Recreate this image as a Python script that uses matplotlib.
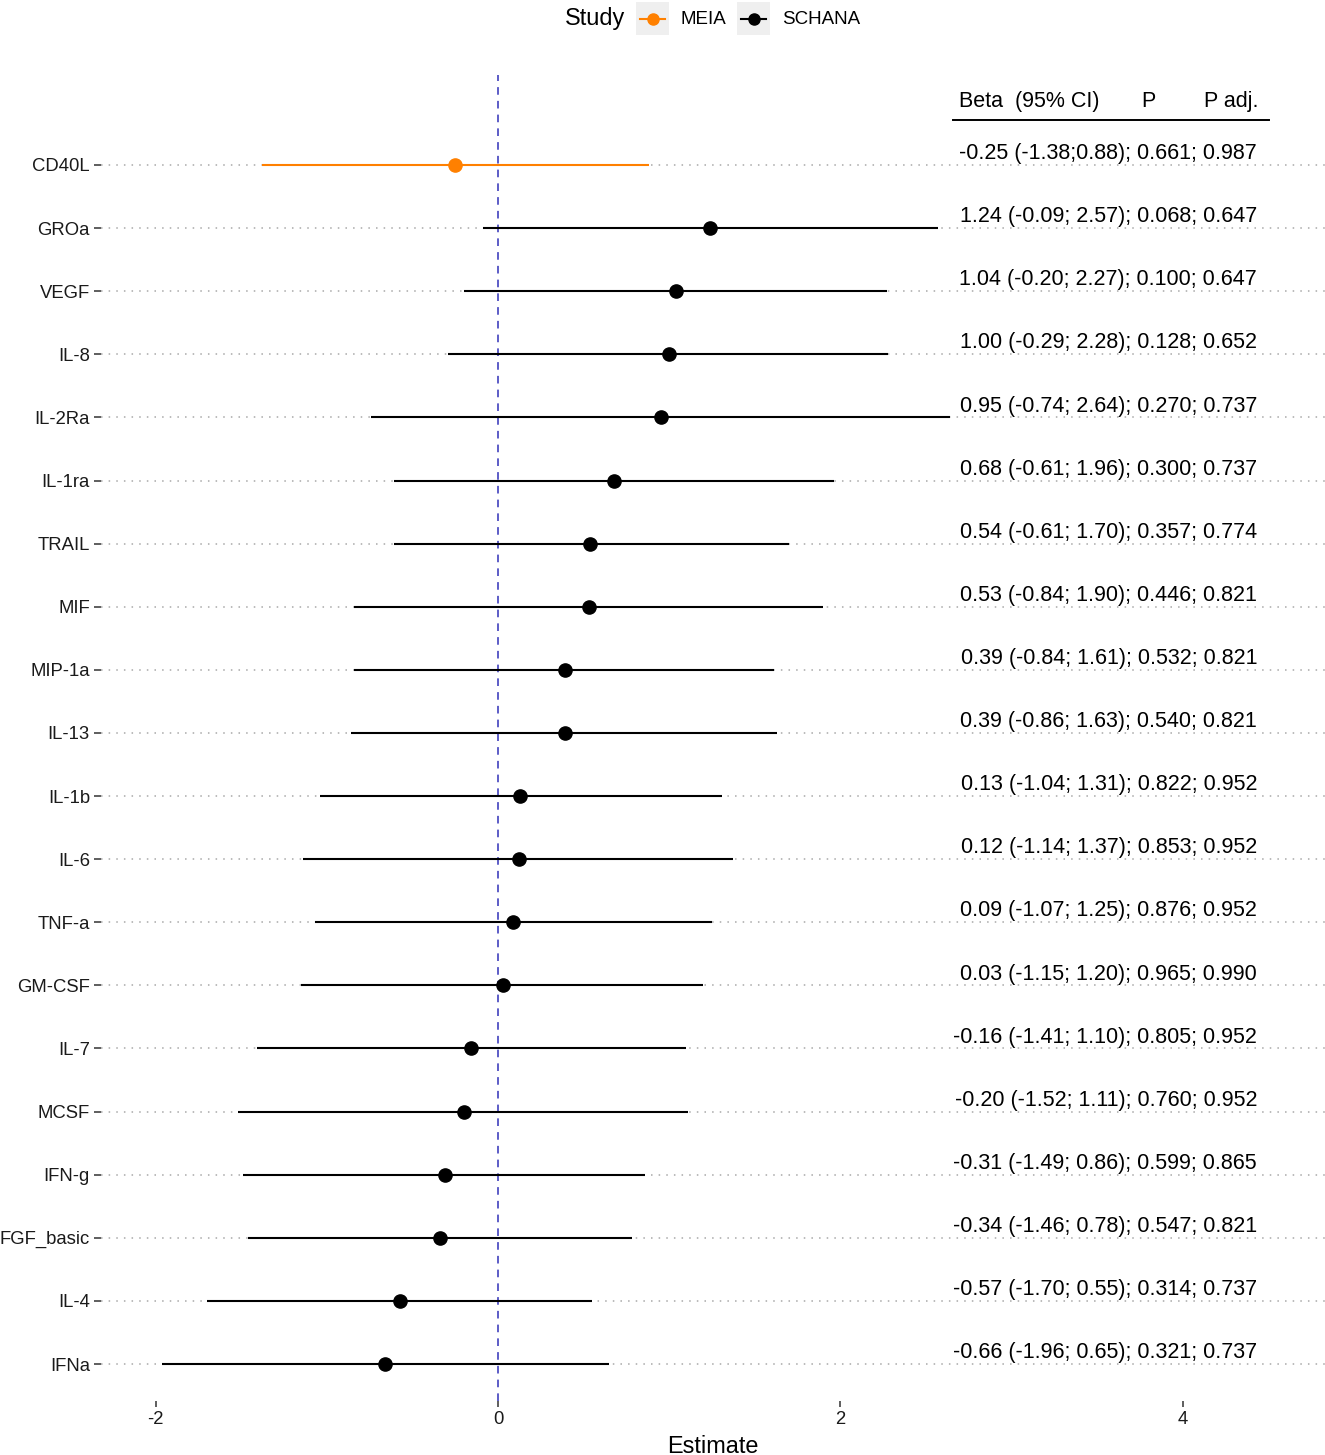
import numpy as np
import matplotlib
matplotlib.use('Agg')
import matplotlib.pyplot as plt
from matplotlib.lines import Line2D
from matplotlib.patches import Rectangle

plt.rcParams['font.family'] = ['Liberation Sans', 'DejaVu Sans']
plt.rcParams['axes.unicode_minus'] = False

markers = ['CD40L', 'GROa', 'VEGF', 'IL-8', 'IL-2Ra', 'IL-1ra', 'TRAIL', 'MIF', 'MIP-1a', 'IL-13',
           'IL-1b', 'IL-6', 'TNF-a', 'GM-CSF', 'IL-7', 'MCSF', 'IFN-g', 'FGF_basic', 'IL-4', 'IFNa']
study = ['MEIA'] + ['SCHANA'] * 19
beta = [-0.25, 1.24, 1.04, 1.00, 0.95, 0.68, 0.54, 0.53, 0.39, 0.39,
        0.13, 0.12, 0.09, 0.03, -0.16, -0.20, -0.31, -0.34, -0.57, -0.66]
lo = [-1.38, -0.09, -0.20, -0.29, -0.74, -0.61, -0.61, -0.84, -0.84, -0.86,
      -1.04, -1.14, -1.07, -1.15, -1.41, -1.52, -1.49, -1.46, -1.70, -1.96]
hi = [0.88, 2.57, 2.27, 2.28, 2.64, 1.96, 1.70, 1.90, 1.61, 1.63,
      1.31, 1.37, 1.25, 1.20, 1.10, 1.11, 0.86, 0.78, 0.55, 0.65]
p = ['0.661', '0.068', '0.100', '0.128', '0.270', '0.300', '0.357', '0.446', '0.532', '0.540',
     '0.822', '0.853', '0.876', '0.965', '0.805', '0.760', '0.599', '0.547', '0.314', '0.321']
padj = ['0.987', '0.647', '0.647', '0.652', '0.737', '0.737', '0.774', '0.821', '0.821', '0.821',
        '0.952', '0.952', '0.952', '0.990', '0.952', '0.952', '0.865', '0.821', '0.737', '0.737']
colors = {'MEIA': '#FF8000', 'SCHANA': '#000000'}


def ci_label(i):
    if study[i] == 'MEIA':
        return f"{beta[i]:.2f} ({lo[i]:.2f};{hi[i]:.2f}); {p[i]}; {padj[i]}"
    return f"{beta[i]:.2f} ({lo[i]:.2f}; {hi[i]:.2f}); {p[i]}; {padj[i]}"


W, H = 1325, 1455
fig = plt.figure(figsize=(W / 100, H / 100), dpi=100)
ax = fig.add_axes([101 / W, 1 - 1401 / H, 1 - 101 / W, (1401 - 75) / H])

n = len(markers)
ypos = np.arange(n, 0, -1)
txt_size = 15.5

ax.axvline(0, color='#3030B8', lw=1.1, ls=(0, (5, 4)), zorder=1)
for i in range(n):
    c = colors[study[i]]
    ax.plot([lo[i], hi[i]], [ypos[i], ypos[i]], color=c, lw=1.5, zorder=3, solid_capstyle='butt')
    ax.plot(beta[i], ypos[i], 'o', color=c, ms=9.5, zorder=4)
    ax.text(4.433, ypos[i] + 0.18, ci_label(i), ha='right', va='center', fontsize=txt_size, zorder=5)

# table header
hy = n + 1
ax.text(2.69, hy, 'Beta  (95% CI)', ha='left', va='center', fontsize=txt_size)
ax.text(3.80, hy, 'P', ha='center', va='center', fontsize=txt_size)
ax.text(4.444, hy, 'P adj.', ha='right', va='center', fontsize=txt_size)
ax.plot([2.655, 4.503], [n + 0.713, n + 0.713], color='black', lw=1.4, clip_on=False)

ax.set_xlim(-2.319, 4.830)
ax.set_ylim(0.414, n + 1.426)
ax.set_xticks([-2, 0, 2, 4])
ax.set_yticks(ypos)
ax.set_yticklabels(markers)
ax.tick_params(axis='y', length=5, width=1.1, color='#333333', labelsize=13.3, labelcolor='#1a1a1a', pad=3)
ax.tick_params(axis='x', length=4, width=1.1, color='#333333', labelsize=13.3, labelcolor='#1a1a1a', pad=3)
ax.grid(axis='y', color='#A8A8A8', ls=(0, (1, 4)), lw=1.1, zorder=0)
ax.set_axisbelow(True)
for s in ax.spines.values():
    s.set_visible(False)
ax.set_xlabel('Estimate', fontsize=16.9, labelpad=5)

# legend at top
def fx(x):
    return x / W


def fy(y):
    return 1 - y / H


fig.text(fx(565), fy(19), 'Study', fontsize=16.9, ha='left', va='center')
for name, x0, tx in [('MEIA', 636, 680), ('SCHANA', 737, 782)]:
    fig.add_artist(Rectangle((fx(x0), fy(35)), 33 / W, 33 / H, transform=fig.transFigure,
                             facecolor='#EFEFEF', edgecolor='none'))
    fig.add_artist(Line2D([fx(x0 + 4), fx(x0 + 29)], [fy(18.5), fy(18.5)], transform=fig.transFigure,
                          color=colors[name], lw=1.5))
    fig.add_artist(Line2D([fx(x0 + 16.5)], [fy(18.5)], transform=fig.transFigure, marker='o',
                          color=colors[name], ms=8))
    fig.text(fx(tx), fy(19), name, fontsize=13.5, ha='left', va='center')

fig.savefig('out.png', dpi=100)
